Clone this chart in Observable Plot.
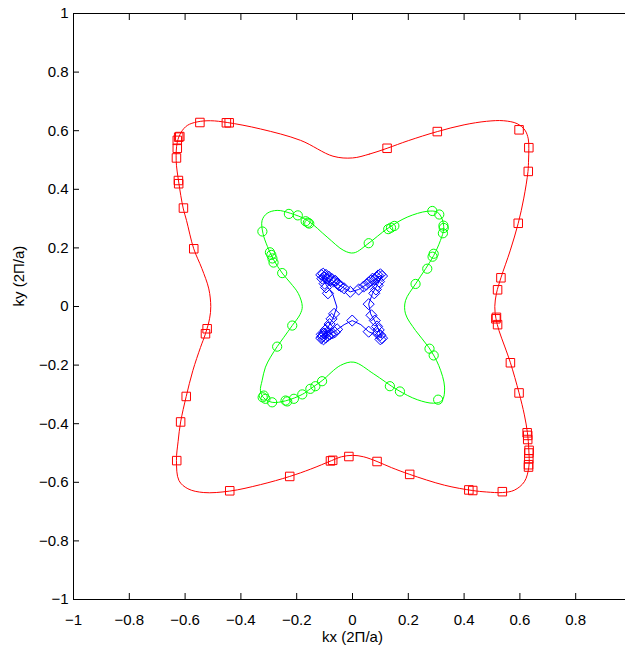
<!DOCTYPE html>
<html><head><meta charset="utf-8">
<script src="https://cdn.jsdelivr.net/npm/d3@7"></script>
<script src="https://cdn.jsdelivr.net/npm/@observablehq/plot@0.6"></script>
<style>html,body{margin:0;padding:0;background:#fff;overflow:hidden}</style>
</head><body><div id="chart"></div>
<script>
const xDomain = [-1, 1];
const yDomain = [-1, 1];
const xTicks = [-1, -0.8, -0.6, -0.4, -0.2, 0, 0.2, 0.4, 0.6, 0.8];
const yTicks = [-1, -0.8, -0.6, -0.4, -0.2, 0, 0.2, 0.4, 0.6, 0.8, 1];
const xLabel = "kx (2\u03A0/a)";
const yLabel = "ky (2\u03A0/a)";

// Outer contour (red squares)
const redCurve = [
[0.000,0.507],[0.060,0.520],[0.124,0.540],[0.200,0.566],[0.304,0.597],[0.400,0.620],[0.480,0.632],[0.542,0.634],[0.590,0.624],[0.618,0.602],[0.630,0.572],[0.632,0.540],[0.631,0.500],[0.629,0.461],[0.614,0.370],[0.594,0.284],[0.565,0.190],[0.532,0.098],[0.516,0.045],[0.510,0.000],[0.514,-0.040],[0.525,-0.082],[0.545,-0.135],[0.566,-0.192],[0.597,-0.295],[0.616,-0.370],[0.627,-0.431],[0.632,-0.490],[0.632,-0.548],[0.616,-0.598],[0.580,-0.627],[0.537,-0.635],[0.480,-0.633],[0.430,-0.628],[0.330,-0.610],[0.205,-0.573],[0.140,-0.550],[0.088,-0.529],[0.040,-0.513],[0.000,-0.508],[-0.040,-0.513],[-0.075,-0.526],[-0.150,-0.555],[-0.225,-0.580],[-0.330,-0.608],[-0.440,-0.630],[-0.533,-0.635],[-0.590,-0.622],[-0.622,-0.594],[-0.631,-0.526],[-0.625,-0.460],[-0.616,-0.394],[-0.596,-0.307],[-0.572,-0.218],[-0.545,-0.140],[-0.527,-0.093],[-0.512,-0.040],[-0.508,0.000],[-0.515,0.060],[-0.540,0.130],[-0.569,0.197],[-0.595,0.294],[-0.607,0.336],[-0.623,0.425],[-0.632,0.498],[-0.628,0.561],[-0.614,0.595],[-0.592,0.618],[-0.557,0.630],[-0.509,0.634],[-0.449,0.628],[-0.330,0.606],[-0.186,0.567],[-0.070,0.513]
];
const redMarkers = [
[-0.547,0.628],[-0.452,0.627],[-0.442,0.627],[0.124,0.540],[0.304,0.597],[0.597,0.603],
[-0.619,0.580],[-0.623,0.578],[-0.628,0.567],[-0.628,0.540],[-0.631,0.507],[-0.624,0.430],[-0.623,0.419],[-0.606,0.336],[-0.569,0.197],[-0.521,-0.076],[-0.527,-0.093],[-0.596,-0.307],[-0.616,-0.394],[-0.630,-0.526],
[-0.440,-0.629],[-0.225,-0.580],[-0.079,-0.527],[-0.071,-0.525],[-0.013,-0.512],[0.088,-0.529],[0.205,-0.573],[0.417,-0.626],[0.431,-0.628],[0.537,-0.632],
[0.632,0.542],[0.630,0.461],[0.594,0.284],[0.532,0.098],[0.520,0.057],[0.516,-0.037],[0.514,-0.042],[0.520,-0.062],[0.566,-0.192],[0.597,-0.295],[0.626,-0.431],[0.628,-0.440],[0.628,-0.454],[0.633,-0.491],[0.632,-0.500],[0.632,-0.520],[0.631,-0.540],[0.631,-0.548]
];

// Middle contour (green circles)
const greenCurve = [
[0.005,0.183],[0.058,0.216],[0.124,0.265],[0.196,0.305],[0.268,0.325],[0.304,0.322],[0.321,0.299],[0.327,0.265],[0.315,0.225],[0.291,0.174],[0.262,0.129],[0.226,0.077],[0.190,0.020],[0.190,-0.025],[0.226,-0.082],[0.273,-0.139],[0.309,-0.201],[0.330,-0.275],[0.321,-0.321],[0.291,-0.330],[0.232,-0.318],[0.160,-0.284],[0.076,-0.230],[0.005,-0.190],[-0.043,-0.201],[-0.109,-0.253],[-0.151,-0.281],[-0.180,-0.300],[-0.240,-0.322],[-0.288,-0.327],[-0.318,-0.312],[-0.330,-0.288],[-0.324,-0.253],[-0.312,-0.207],[-0.294,-0.173],[-0.270,-0.137],[-0.246,-0.105],[-0.216,-0.065],[-0.188,-0.027],[-0.180,0.000],[-0.194,0.044],[-0.222,0.080],[-0.252,0.114],[-0.283,0.160],[-0.305,0.205],[-0.321,0.250],[-0.324,0.294],[-0.306,0.318],[-0.270,0.328],[-0.222,0.318],[-0.162,0.294],[-0.091,0.237],[-0.031,0.191]
];
const greenMarkers = [
[-0.323,0.256],[-0.228,0.316],[-0.196,0.311],[-0.168,0.291],[-0.160,0.286],[-0.155,0.283],
[0.058,0.216],[0.128,0.264],[0.138,0.269],[0.150,0.275],[0.286,0.326],[0.311,0.314],[0.326,0.276],[0.327,0.268],[0.324,0.250],
[0.291,0.180],[0.287,0.170],[0.268,0.129],[0.226,0.077],
[0.276,-0.144],[0.291,-0.167],
[0.307,-0.318],[0.170,-0.290],[0.134,-0.272],
[-0.109,-0.255],[-0.133,-0.272],[-0.151,-0.281],[-0.180,-0.300],[-0.210,-0.315],[-0.234,-0.324],[-0.240,-0.321],[-0.288,-0.327],[-0.312,-0.315],[-0.318,-0.304],[-0.322,-0.310],
[-0.270,-0.137],[-0.216,-0.065],
[-0.252,0.114],[-0.283,0.150],[-0.287,0.164],[-0.291,0.176],[-0.296,0.185]
];

// Inner contour (blue diamonds)
const blueCurve = [
[-0.110,0.108],[-0.075,0.090],[-0.040,0.068],[-0.008,0.050],[0.022,0.058],[0.050,0.075],[0.080,0.092],[0.106,0.108],[0.090,0.075],[0.072,0.045],[0.058,0.008],[0.065,-0.025],[0.080,-0.050],[0.094,-0.080],[0.106,-0.108],[0.080,-0.095],[0.058,-0.086],[0.030,-0.062],[-0.001,-0.048],[-0.030,-0.062],[-0.060,-0.082],[-0.110,-0.108],[-0.090,-0.075],[-0.070,-0.040],[-0.056,-0.002],[-0.070,0.040],[-0.095,0.075]
];
const blueMarkers = [
[-0.112,0.108],[-0.105,0.112],[-0.100,0.100],[-0.108,0.095],[-0.095,0.108],[-0.090,0.095],[-0.085,0.102],[-0.080,0.090],[-0.074,0.094],[-0.068,0.085],[-0.062,0.088],[-0.055,0.078],[-0.048,0.072],[-0.040,0.068],[-0.100,0.078],[-0.095,0.065],[-0.088,0.045],[-0.030,0.062],
[-0.008,0.050],[0.022,0.058],
[0.040,0.068],[0.050,0.075],[0.058,0.082],[0.066,0.088],[0.072,0.095],[0.080,0.092],[0.086,0.100],[0.092,0.106],[0.100,0.110],[0.106,0.104],[0.095,0.085],[0.090,0.072],[0.084,0.058],[0.078,0.045],
[0.058,0.008],
[0.068,-0.030],[0.080,-0.048],[0.088,-0.068],[0.094,-0.080],[0.090,-0.092],[0.100,-0.098],[0.106,-0.108],[0.058,-0.086],[0.100,-0.112],
[-0.001,-0.048],
[-0.066,-0.025],[-0.075,-0.042],[-0.082,-0.060],[-0.088,-0.072],[-0.096,-0.080],[-0.102,-0.092],[-0.108,-0.102],[-0.112,-0.108],[-0.104,-0.112],[-0.096,-0.106],[-0.088,-0.100],[-0.080,-0.095],[-0.072,-0.092],[-0.064,-0.088],[-0.055,-0.078],[-0.110,-0.095],[-0.092,-0.090]
];

const RED = "#ff0000", GREEN = "#00ff00", BLUE = "#0000ff";
const fmt = d => d === 0 ? "0" : (d < 0 ? "\u2212" : "") + String(Math.abs(+(+d).toFixed(1)));
const px = d => d[0], py = d => d[1];

const chart = Plot.plot({
  width: 625, height: 646,
  marginLeft: 73, marginRight: -6, marginTop: 13, marginBottom: 47,
  style: {fontFamily: "'Liberation Sans', Arial, Helvetica, sans-serif", fontSize: "15px", background: "#fff", color: "#000"},
  x: {domain: xDomain, range: [73, 631]},
  y: {domain: yDomain, range: [599, 13]},
  marks: [
    Plot.line(redCurve, {x: px, y: py, curve: "catmull-rom-closed", stroke: RED, strokeWidth: 1}),
    Plot.dot(redMarkers, {x: px, y: py, symbol: "square", r: 4.8, stroke: RED, fill: "none", strokeWidth: 1}),
    Plot.line(greenCurve, {x: px, y: py, curve: "catmull-rom-closed", stroke: GREEN, strokeWidth: 1}),
    Plot.dot(greenMarkers, {x: px, y: py, symbol: "circle", r: 4.6, stroke: GREEN, fill: "none", strokeWidth: 1}),
    Plot.line(blueCurve, {x: px, y: py, curve: "linear-closed", stroke: BLUE, strokeWidth: 1}),
    Plot.dot(blueMarkers, {x: px, y: py, symbol: "diamond2", r: 5, stroke: BLUE, fill: "none", strokeWidth: 1}),
    Plot.ruleX(xDomain, {stroke: "#000", strokeWidth: 1}),
    Plot.ruleY(yDomain, {stroke: "#000", strokeWidth: 1}),
    Plot.axisX({ticks: xTicks, tickSize: -6, tickPadding: 21, tickFormat: fmt, label: null, fontSize: 15}),
    Plot.axisX({anchor: "top", ticks: xTicks, tickSize: -6, tickFormat: () => "", label: null}),
    Plot.axisY({ticks: yTicks, tickSize: -6, tickPadding: 11, tickFormat: fmt, label: null, fontSize: 15}),
    Plot.text([xLabel], {text: d => d, frameAnchor: "bottom", dy: 38, lineAnchor: "middle", fontSize: 15}),
    Plot.text([yLabel], {text: d => d, frameAnchor: "left", dx: -54, rotate: -90, fontSize: 15})
  ]
});
document.getElementById("chart").appendChild(chart);
</script>
</body></html>
